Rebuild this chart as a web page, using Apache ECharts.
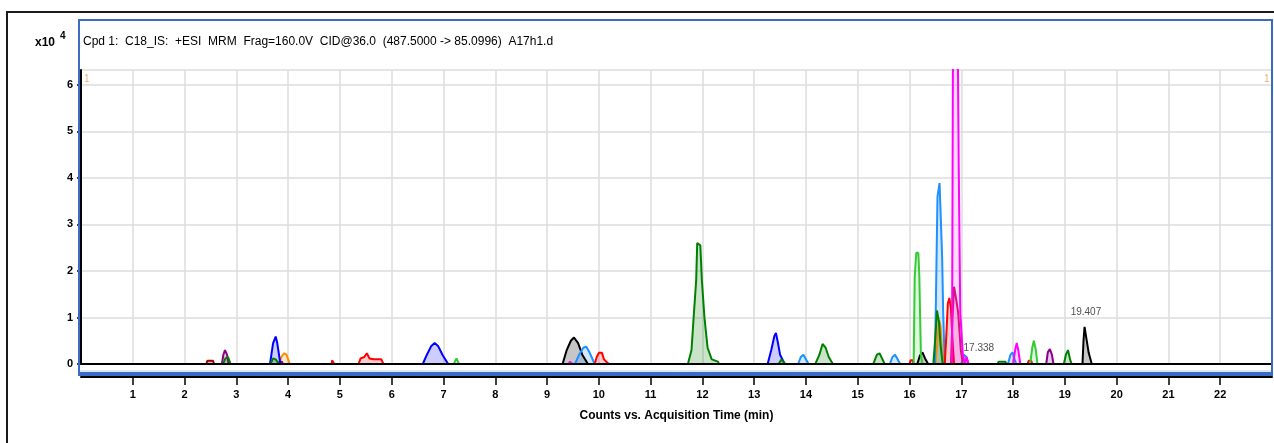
<!DOCTYPE html>
<html>
<head>
<meta charset="utf-8">
<script src="https://cdn.jsdelivr.net/npm/echarts@6/dist/echarts.min.js"></script>
<style>
html,body{margin:0;padding:0;background:#fff;}
#c{width:1274px;height:443px;}
</style>
</head>
<body>
<div id="c"></div>
<script>
// ---- data (time in min, counts in x10^4) ----
const titleText = 'Cpd 1:  C18_IS:  +ESI  MRM  Frag=160.0V  CID@36.0  (487.5000 -> 85.0996)  A17h1.d';
const xAxisTitle = 'Counts vs. Acquisition Time (min)';
const yUnit = 'x10';
const yExp = '4';

const darkGreen = [
  [2.74,0],[2.79,0.12],[2.84,0.15],[2.89,0], null,
  [3.66,0],[3.71,0.12],[3.76,0.1],[3.82,0], null,
  [11.72,0],[11.79,0.3],[11.83,0.99],[11.88,1.8],[11.9,2.6],[11.96,2.55],[11.99,1.8],[12.04,1.0],[12.1,0.35],[12.18,0.1],[12.3,0.05],[12.32,0], null,
  [13.47,0],[13.53,0.1],[13.6,0], null,
  [14.18,0],[14.26,0.2],[14.32,0.43],[14.38,0.35],[14.44,0.15],[14.52,0], null,
  [15.3,0],[15.37,0.2],[15.42,0.23],[15.47,0.12],[15.52,0], null,
  [16.46,0],[16.5,0.6],[16.53,1.15],[16.57,0.9],[16.6,0.4],[16.64,0], null,
  [17.7,0],[17.72,0.05],[17.85,0.05],[17.87,0], null,
  [18.98,0],[19.02,0.2],[19.06,0.3],[19.1,0.1],[19.13,0]
];
const brightGreen = [
  [7.2,0],[7.25,0.12],[7.3,0], null,
  [16.08,0],[16.1,1.87],[16.13,2.39],[16.17,2.39],[16.19,1.87],[16.2,1.27],[16.22,0.2],[16.25,0], null,
  [18.33,0],[18.37,0.35],[18.4,0.5],[18.44,0.3],[18.47,0]
];
const blue = [
  [3.65,0],[3.68,0.23],[3.71,0.45],[3.76,0.59],[3.79,0.45],[3.82,0.23],[3.85,0], null,
  [6.6,0],[6.68,0.2],[6.76,0.38],[6.83,0.45],[6.9,0.38],[6.98,0.2],[7.09,0], null,
  [13.26,0],[13.33,0.3],[13.39,0.6],[13.42,0.67],[13.46,0.45],[13.5,0.2],[13.59,0]
];
const grayBlack = [
  [9.3,0],[9.38,0.3],[9.46,0.5],[9.52,0.57],[9.6,0.45],[9.68,0.2],[9.79,0], null,
  [16.15,0],[16.2,0.18],[16.25,0.25],[16.3,0.12],[16.36,0], null,
  [19.34,0],[19.36,0.5],[19.38,0.8],[19.42,0.52],[19.46,0.24],[19.52,0]
];
const lightBlue = [
  [9.54,0],[9.62,0.2],[9.7,0.35],[9.76,0.37],[9.82,0.25],[9.92,0], null,
  [13.85,0],[13.9,0.15],[13.95,0.2],[14.0,0.1],[14.05,0], null,
  [15.62,0],[15.67,0.15],[15.72,0.2],[15.77,0.1],[15.82,0], null,
  [16.49,0],[16.51,1.38],[16.54,3.6],[16.58,3.89],[16.63,2.3],[16.65,1.1],[16.68,0], null,
  [17.0,0],[17.05,0.2],[17.1,0.15],[17.14,0], null,
  [17.9,0],[17.95,0.2],[17.99,0.25],[18.03,0.1],[18.06,0]
];
const red = [
  [4.84,0],[4.85,0.08],[4.88,0.08],[4.89,0], null,
  [5.36,0],[5.4,0.12],[5.47,0.15],[5.52,0.23],[5.57,0.12],[5.65,0.1],[5.8,0.1],[5.84,0], null,
  [9.92,0],[9.96,0.15],[10.0,0.24],[10.06,0.24],[10.1,0.1],[10.19,0], null,
  [16.0,0],[16.02,0.08],[16.06,0.08],[16.08,0], null,
  [16.68,0],[16.71,0.6],[16.74,1.3],[16.77,1.42],[16.8,1.2],[16.83,0.5],[16.86,0], null,
  [18.28,0],[18.3,0.07],[18.35,0.07],[18.37,0]
];
const magenta = [
  [9.42,0],[9.44,0.05],[9.47,0.05],[9.49,0], null,
  [16.82,0],[16.84,7.2],[16.93,7.2],[16.95,4.3],[16.98,1.1],[17.03,0.2],[17.07,0], null,
  [17.07,0],[17.1,0.15],[17.14,0], null,
  [18.0,0],[18.04,0.3],[18.07,0.45],[18.1,0.3],[18.14,0]
];
const crimson = [
  [16.8,0],[16.83,1.0],[16.86,1.66],[16.9,1.4],[16.94,1.1],[16.99,0.3],[17.03,0]
];
const orange = [
  [3.82,0],[3.87,0.15],[3.92,0.23],[3.97,0.2],[4.03,0], null,
  [16.5,0],[16.54,0.5],[16.57,0.95],[16.6,0.8],[16.63,0.3],[16.67,0]
];
const purple = [
  [2.72,0],[2.75,0.2],[2.78,0.3],[2.82,0.2],[2.85,0], null,
  [3.8,0],[3.83,0.05],[3.88,0.05],[3.9,0], null,
  [18.64,0],[18.67,0.25],[18.71,0.32],[18.75,0.2],[18.78,0]
];
const darkRed = [
  [2.42,0],[2.44,0.07],[2.55,0.07],[2.57,0]
];
const annTimes = [17.338, 19.407];
const annHeights = [0.02, 0.8];

// ---- chart ----
const chart = echarts.init(document.getElementById('c'), null, {renderer: 'canvas'});
const FONT = 'Liberation Sans, Arial, sans-serif';

function peakSeries(name, data, line, fill, z) {
  return {
    name: name, type: 'line', data: data, connectNulls: false,
    showSymbol: false, symbol: 'none', clip: true, z: z || 2,
    lineStyle: {color: line, width: 2},
    areaStyle: {color: fill, origin: 0},
    animation: false
  };
}

const series = [
  peakSeries('darkRed', darkRed, '#a00000', 'rgba(160,0,0,0.4)'),
  peakSeries('purple', purple, '#8b008b', 'rgba(139,0,139,0.3)'),
  peakSeries('orange', orange, '#ff8c00', 'rgba(255,140,0,0.3)'),
  peakSeries('blue', blue, '#0000ff', 'rgba(0,0,255,0.28)'),
  peakSeries('grayBlack', grayBlack, '#000000', 'rgba(0,0,0,0.32)'),
  peakSeries('lightBlue', lightBlue, '#1e90ff', 'rgba(30,144,255,0.28)'),
  peakSeries('red', red, '#ff0000', 'rgba(255,0,0,0.28)'),
  peakSeries('darkGreen', darkGreen, '#008000', 'rgba(0,128,0,0.3)'),
  peakSeries('brightGreen', brightGreen, '#33cc33', 'rgba(51,204,51,0.22)'),
  peakSeries('crimson', crimson, '#cc1a66', 'rgba(230,80,150,0.38)'),
  peakSeries('magenta', magenta, '#ff00ff', 'rgba(255,0,255,0.2)', 3),
  {
    name: 'ann', type: 'scatter', symbolSize: 0, z: 5, animation: false,
    data: annTimes.map((t, i) => [t, annHeights[i]]),
    label: {
      show: true, position: 'top', distance: 10,
      formatter: p => annTimes[p.dataIndex].toFixed(3),
      color: '#222', fontSize: 10, fontFamily: FONT
    },
    markLine: {
      silent: true, symbol: 'none', animation: false,
      label: {show: false},
      lineStyle: {color: '#000', width: 2, type: 'solid'},
      data: [{yAxis: 0}]
    }
  }
];

chart.setOption({
  animation: false,
  backgroundColor: '#ffffff',
  textStyle: {fontFamily: FONT},
  grid: {left: 81, right: 2, top: 70, bottom: 79, containLabel: false},
  xAxis: {
    type: 'value', min: 0, max: 23, interval: 1, offset: 13,
    name: xAxisTitle, nameLocation: 'middle', nameGap: 33,
    nameTextStyle: {fontWeight: 'bold', fontSize: 12, color: '#000', fontFamily: FONT},
    axisLine: {show: true, onZero: false, lineStyle: {color: '#000', width: 2}},
    axisTick: {show: true, length: 8, lineStyle: {color: '#000', width: 1.5}},
    axisLabel: {showMinLabel: false, showMaxLabel: false, margin: 12, fontWeight: 'bold', fontSize: 11, color: '#000'},
    splitLine: {show: true, lineStyle: {color: '#dcdcdc', width: 1.5}}
  },
  yAxis: {
    type: 'value', min: 0, max: 6.32, interval: 1, offset: 3,
    axisLine: {show: true, lineStyle: {color: '#000', width: 2}},
    axisTick: {show: true, length: 4, lineStyle: {color: '#000', width: 1.5}},
    axisLabel: {showMaxLabel: false, margin: 5, fontWeight: 'bold', fontSize: 11, color: '#000'},
    splitLine: {show: true, lineStyle: {color: '#dcdcdc', width: 1.5}}
  },
  graphic: [
    {type: 'polyline', silent: true, z: 100, shape: {points: [[7, 443], [7, 12], [1274, 12]]}, style: {stroke: '#1a1a1a', lineWidth: 2, fill: null}},
    {type: 'rect', silent: true, z: 100, shape: {x: 79, y: 20, width: 1193, height: 355}, style: {stroke: '#3a6cc6', lineWidth: 2, fill: null}},
    {type: 'line', silent: true, z: 100, shape: {x1: 79, y1: 374, x2: 1272, y2: 374}, style: {stroke: '#3a6cc6', lineWidth: 4}},
    {type: 'line', silent: true, z: 100, shape: {x1: 80, y1: 371, x2: 1271, y2: 371}, style: {stroke: '#b8cdee', lineWidth: 1}},
    {type: 'text', silent: true, z: 100, left: 83, top: 36, style: {text: titleText, font: '12px ' + FONT, fill: '#000'}},
    {type: 'text', silent: true, z: 100, left: 35, top: 37, style: {text: yUnit, font: 'bold 12px ' + FONT, fill: '#000'}},
    {type: 'text', silent: true, z: 100, left: 60, top: 31, style: {text: yExp, font: 'bold 10px ' + FONT, fill: '#000'}},
    {type: 'text', silent: true, z: 100, left: 84, top: 74, style: {text: '1', font: '10px ' + FONT, fill: '#f0b070'}},
    {type: 'text', silent: true, z: 100, left: 1264, top: 74, style: {text: '1', font: '10px ' + FONT, fill: '#f0b070'}}
  ],
  series: series
});
</script>
</body>
</html>
